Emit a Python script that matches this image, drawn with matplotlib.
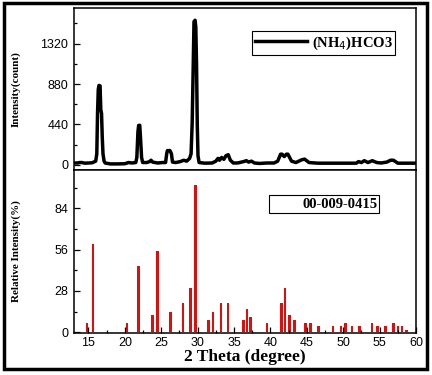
import numpy as np
import matplotlib
matplotlib.use("Agg")
import matplotlib.pyplot as plt
from matplotlib.lines import Line2D
from matplotlib.patches import Rectangle
from matplotlib.ticker import MultipleLocator

two_theta = [13.0, 13.5, 13.8, 14.1, 14.5, 15.0, 15.5, 16.0, 16.15, 16.25, 16.35, 16.45,
             16.6, 16.7, 16.8, 16.9, 17.0, 17.15, 17.3, 18.0, 19.0, 20.0, 20.5, 21.0,
             21.5, 21.65, 21.8, 21.9, 22.05, 22.15, 22.3, 22.45, 23.0, 23.4, 23.6, 23.8,
             24.5, 25.2, 25.6, 25.75, 25.85, 26.2, 26.4, 26.55, 27.0, 27.6, 28.1, 28.5,
             28.9, 29.1, 29.25, 29.4, 29.5, 29.65, 29.75, 29.85, 29.95, 30.05, 30.2, 31.0,
             32.0, 32.5, 32.8, 33.0, 33.3, 33.6, 33.9, 34.2, 34.5, 34.9, 35.5, 36.3,
             36.7, 37.0, 37.4, 37.8, 38.5, 39.5, 40.5, 41.0, 41.4, 41.6, 41.9, 42.2,
             42.4, 42.9, 43.5, 44.3, 44.7, 45.3, 46.5, 48.0, 49.5, 51.0, 51.8, 52.1,
             52.5, 52.9, 53.4, 54.0, 54.6, 55.2, 56.0, 56.5, 56.9, 57.5, 58.5, 60.0]
counts = [20, 20, 25, 25, 18, 20, 22, 40, 120, 560, 820, 865,
          860, 600, 560, 300, 120, 40, 20, 10, 10, 12, 25, 20,
          25, 80, 360, 430, 430, 300, 80, 25, 25, 35, 50, 30,
          20, 25, 25, 120, 155, 155, 120, 30, 25, 35, 50, 40,
          70, 120, 450, 1100, 1560, 1575, 1500, 1100, 440, 100, 25, 18,
          20, 40, 70, 50, 80, 60, 100, 110, 50, 20, 20, 35,
          45, 30, 40, 20, 15, 20, 20, 40, 116, 116, 90, 116,
          116, 40, 25, 55, 62, 25, 18, 18, 18, 18, 18, 35,
          25, 45, 25, 45, 25, 20, 30, 50, 50, 18, 18, 18]

# reference card 00-009-0415
ref_pos = [14.8, 15.6, 20.3, 21.9, 23.8, 24.5, 26.3, 28.0, 29.0, 29.7,
           31.5, 32.1, 33.2, 34.2, 36.3, 36.8, 37.3, 39.5, 41.5, 42.0,
           42.6, 43.3, 44.8, 45.5, 46.6, 48.6, 49.7, 50.3, 51.2, 52.2,
           53.95, 54.7, 55.8, 56.9, 57.5, 58.1, 58.7]
ref_int = [6, 60, 6, 45, 12, 55, 14, 20, 30, 100,
           8, 14, 20, 20, 8, 16, 10, 6, 20, 30,
           12, 8, 6, 6, 4, 4, 4, 6, 4, 4,
           6, 4, 4, 6, 4, 4, 1.5]

plt.rcParams["font.family"] = "Liberation Sans"
serif_bold = dict(family="Liberation Serif", weight="bold")
leg_font = dict(family="Liberation Serif", weight="bold", size=10.5)

fig = plt.figure(figsize=(4.32, 3.75), dpi=100)
ax1 = fig.add_axes([0.171, 0.547, 0.792, 0.432])
ax2 = fig.add_axes([0.171, 0.112, 0.792, 0.435], sharex=ax1)

ax1.plot(two_theta, counts, color="black", lw=2.5, label="(NH$_4$)HCO3")
ax1.set_ylim(-55, 1710)
ax1.set_yticks([0, 440, 880, 1320])
ax1.yaxis.set_minor_locator(MultipleLocator(220))
ax1.set_ylabel("Intensity(count)", fontsize=8, **serif_bold)
ax1.yaxis.set_label_coords(-0.155, 0.5)
ax1.tick_params(axis="x", which="both", bottom=False, labelbottom=False)
leg1 = ax1.legend(loc="upper right", bbox_to_anchor=(0.94, 0.855), fancybox=False,
                  edgecolor="black", framealpha=1, handlelength=3.6, prop=leg_font,
                  borderpad=0.2, handletextpad=0.3, borderaxespad=0)
leg1.get_frame().set_linewidth(0.8)

ax2.bar(ref_pos, ref_int, width=0.35, color="#e00d0d")
ax2.set_ylim(-0.5, 110)
ax2.set_yticks([0, 28, 56, 84])
ax2.yaxis.set_minor_locator(MultipleLocator(14))
ax2.set_xlim(13, 60)
ax2.set_xticks(range(15, 61, 5))
ax2.xaxis.set_minor_locator(MultipleLocator(2.5))
ax2.set_ylabel("Relative Intensity(%)", fontsize=8, **serif_bold)
ax2.yaxis.set_label_coords(-0.155, 0.5)
ax2.set_xlabel("2 Theta (degree)", fontsize=12.5, **serif_bold)
ax2.xaxis.set_label_coords(0.5, -0.1)
h = Line2D([], [], color="none")
leg2 = ax2.legend([h], ["00-009-0415"], loc="upper right", bbox_to_anchor=(0.893, 0.845),
                  fancybox=False, edgecolor="black", framealpha=1, handlelength=1.8,
                  prop=leg_font, borderpad=0.15, handletextpad=0.3, borderaxespad=0)
leg2.get_frame().set_linewidth(0.8)

for ax in (ax1, ax2):
    ax.tick_params(which="both", direction="in", labelsize=9, pad=4, width=0.9)
    ax.tick_params(which="major", length=4)
    ax.tick_params(which="minor", length=2.5)
    for s in ax.spines.values():
        s.set_linewidth(1.1)
ax2.tick_params(axis="x", pad=3)

fig.patches.append(Rectangle((4 / 432, 6 / 375), 423 / 432, 366 / 375, fill=False,
                             lw=2.5, edgecolor="black", transform=fig.transFigure))

fig.savefig("out.png", dpi=100)
